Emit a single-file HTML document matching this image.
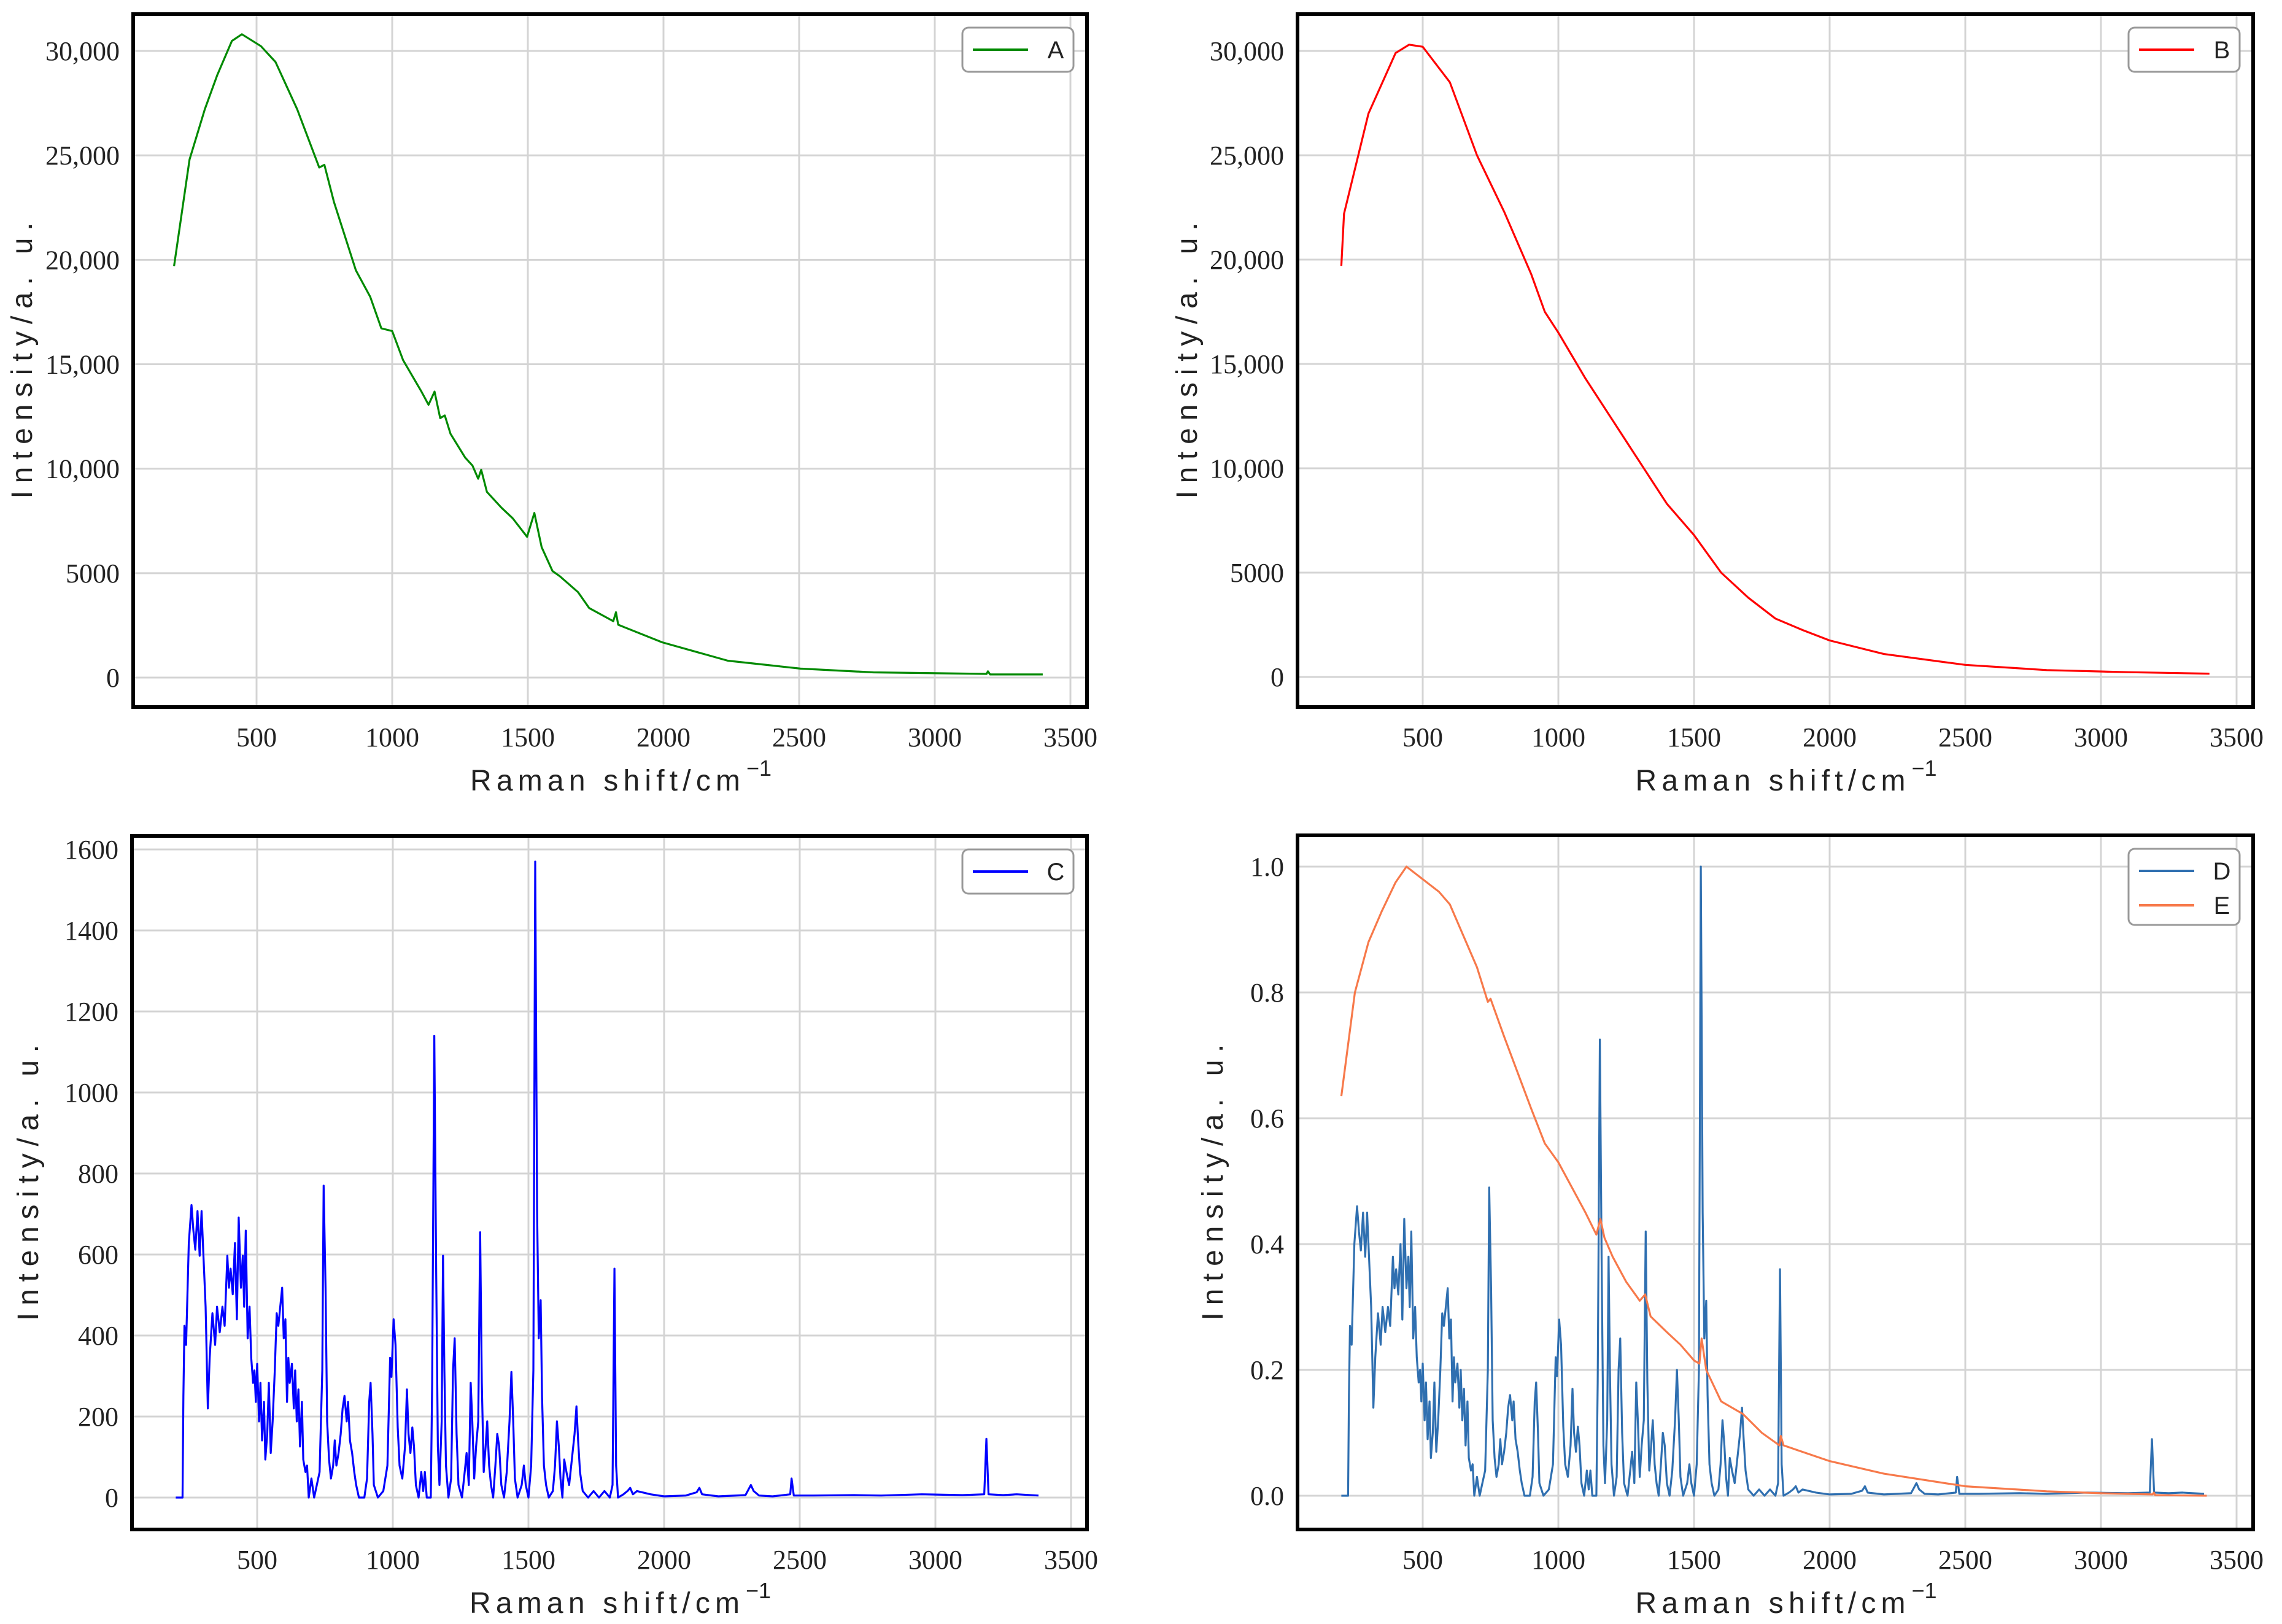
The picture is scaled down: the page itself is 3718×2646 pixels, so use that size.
<!DOCTYPE html>
<html><head><meta charset="utf-8"><style>
html,body{margin:0;padding:0;background:#fff;}
svg{display:block;}
</style></head><body>
<svg id="fig" xmlns="http://www.w3.org/2000/svg" width="3718" height="2646" viewBox="0 0 3718 2646"></svg>
<script>
const shiftA=[196,253,309,355,409,446,516,570,650,731,750,785,866,919,960,1000,1040,1108,1134,1156,1177,1194,1215,1269,1296,1317,1328,1349,1403,1444,1497,1524,1551,1591,1618,1685,1726,1815,1825,1833,1995,2237,2505,2774,3191,3196,3204,3398];
const intensityA=[19700,24800,27200,28840,30480,30800,30230,29470,27200,24420,24550,22780,19500,18230,16720,16590,15200,13690,13060,13690,12420,12550,11670,10530,10150,9520,9950,8890,8130,7630,6740,7880,6240,5100,4850,4090,3330,2700,3130,2530,1690,808,430,250,177,300,150,150];
const shiftB=[200,210,300,400,450,500,600,700,800,900,950,1000,1100,1200,1300,1400,1500,1550,1600,1700,1800,1900,2000,2200,2500,2800,3100,3400];
const intensityB=[19700,22200,27000,29900,30300,30200,28500,25000,22300,19300,17500,16500,14300,12300,10300,8300,6800,5900,5000,3800,2800,2250,1750,1100,580,330,230,160];
const shiftCD=[200,225,228,232,238,248,258,265,272,280,288,295,300,310,318,325,335,345,352,362,372,380,390,396,402,410,418,425,432,440,447,452,458,465,472,478,485,490,495,500,507,512,518,525,530,537,543,550,557,565,572,578,585,592,598,604,610,615,620,628,635,640,646,652,658,665,670,678,684,690,700,710,720,730,740,745,752,758,765,772,780,786,792,800,808,815,822,830,835,842,850,858,865,875,895,905,913,918,925,930,945,965,980,990,995,1003,1010,1018,1025,1035,1045,1052,1058,1065,1072,1078,1085,1095,1105,1112,1118,1125,1140,1145,1153,1160,1166,1172,1180,1185,1190,1196,1205,1215,1222,1228,1235,1242,1255,1265,1272,1280,1287,1293,1300,1307,1315,1322,1328,1335,1342,1348,1355,1362,1370,1378,1385,1392,1400,1410,1420,1430,1437,1444,1450,1460,1475,1483,1490,1500,1510,1518,1525,1532,1538,1545,1550,1557,1565,1575,1590,1598,1605,1612,1618,1625,1632,1640,1650,1660,1670,1677,1683,1690,1700,1720,1740,1760,1780,1800,1810,1817,1823,1830,1850,1865,1875,1885,1900,1950,2000,2080,2120,2130,2140,2200,2300,2320,2330,2350,2400,2465,2470,2478,2550,2700,2800,2950,3100,3180,3188,3196,3250,3300,3380];
const intensityC=[0,0,251,424,377,628,722,659,612,707,597,707,628,471,220,345,455,377,471,408,471,424,597,518,565,502,628,440,691,518,597,471,659,393,471,345,283,314,236,330,188,283,141,236,94,157,283,110,188,314,455,424,471,518,393,440,236,345,283,330,220,314,188,267,126,236,94,63,79,0,47,0,31,63,314,770,518,188,94,47,79,141,79,110,157,220,251,188,236,141,110,63,31,0,0,47,236,283,157,31,0,16,79,345,298,440,377,173,79,47,126,267,157,110,173,126,31,0,63,16,63,0,0,283,1140,550,126,31,188,597,314,79,0,47,314,393,157,31,0,63,110,31,283,188,47,126,188,655,283,63,126,188,79,31,0,79,157,126,31,0,63,188,310,188,47,0,31,79,31,0,79,314,1570,707,393,487,251,79,31,0,16,79,188,126,47,0,94,63,31,94,157,225,141,63,16,0,16,0,16,0,31,565,79,0,8,16,24,8,16,8,3,5,13,24,8,3,6,31,16,5,3,8,47,5,5,6,5,8,6,8,145,8,6,8,5];
const intensityD=[0,0,0.16,0.27,0.24,0.40,0.46,0.42,0.39,0.45,0.38,0.45,0.40,0.30,0.14,0.22,0.29,0.24,0.30,0.26,0.30,0.27,0.38,0.33,0.36,0.32,0.40,0.28,0.44,0.33,0.38,0.30,0.42,0.25,0.30,0.22,0.18,0.20,0.15,0.21,0.12,0.18,0.09,0.15,0.06,0.10,0.18,0.07,0.12,0.20,0.29,0.27,0.30,0.33,0.25,0.28,0.15,0.22,0.18,0.21,0.14,0.20,0.12,0.17,0.08,0.15,0.06,0.04,0.05,0,0.03,0,0.02,0.04,0.2,0.49,0.33,0.12,0.06,0.03,0.05,0.09,0.05,0.07,0.10,0.14,0.16,0.12,0.15,0.09,0.07,0.04,0.02,0,0,0.03,0.15,0.18,0.10,0.02,0,0.01,0.05,0.22,0.19,0.28,0.24,0.11,0.05,0.03,0.08,0.17,0.10,0.07,0.11,0.08,0.02,0,0.04,0.01,0.04,0,0,0.18,0.725,0.35,0.08,0.02,0.12,0.38,0.20,0.05,0,0.03,0.20,0.25,0.10,0.02,0,0.04,0.07,0.02,0.18,0.12,0.03,0.08,0.12,0.42,0.18,0.04,0.08,0.12,0.05,0.02,0,0.05,0.10,0.08,0.02,0,0.04,0.12,0.20,0.12,0.03,0,0.02,0.05,0.02,0,0.05,0.20,1.0,0.45,0.25,0.31,0.16,0.05,0.02,0,0.01,0.05,0.12,0.08,0.03,0,0.06,0.04,0.02,0.06,0.10,0.14,0.09,0.04,0.01,0,0.01,0,0.01,0,0.02,0.36,0.05,0,0.005,0.01,0.015,0.005,0.01,0.005,0.002,0.003,0.008,0.015,0.005,0.002,0.004,0.02,0.01,0.003,0.002,0.005,0.03,0.003,0.003,0.004,0.003,0.005,0.004,0.005,0.09,0.005,0.004,0.005,0.003];
const shiftE=[200,250,300,350,400,440,500,560,600,700,740,750,800,900,950,1000,1050,1100,1140,1155,1170,1200,1250,1300,1320,1340,1400,1450,1500,1520,1528,1545,1600,1680,1750,1815,1820,1830,2000,2200,2500,2800,3000,3190,3195,3200,3390];
const intensityE=[0.635,0.80,0.88,0.93,0.975,1.0,0.98,0.96,0.94,0.84,0.785,0.79,0.73,0.615,0.56,0.53,0.49,0.45,0.415,0.44,0.41,0.38,0.34,0.31,0.32,0.285,0.26,0.24,0.215,0.21,0.25,0.2,0.15,0.13,0.10,0.08,0.095,0.08,0.055,0.035,0.015,0.007,0.004,0.002,0.005,0.001,0];
const xTickValues=[500,1000,1500,2000,2500,3000,3500];
const yTicksAB=[0,5000,10000,15000,20000,25000,30000];
const yLabelsAB=["0","5000","10,000","15,000","20,000","25,000","30,000"];
const yTicksC=[0,200,400,600,800,1000,1200,1400,1600];
const yLabelsC=["0","200","400","600","800","1000","1200","1400","1600"];
const yTicksD=[0,0.2,0.4,0.6,0.8,1.0];
const yLabelsD=["0.0","0.2","0.4","0.6","0.8","1.0"];

const NS="http://www.w3.org/2000/svg";
const svg=document.getElementById('fig');
function mk(tag,attrs,parent){const e=document.createElementNS(NS,tag);for(const k in attrs)e.setAttribute(k,attrs[k]);(parent||svg).appendChild(e);return e;}

function panel(p){
  const g=mk('g',{});
  
  
  const xs=v=>p.x500+(v-500)*221/500;
  const ys=v=>p.y0-v*p.ky;
  // grid
  xTickValues.forEach(v=>{
    const l=mk('line',{x1:xs(v),x2:xs(v),y1:p.top,y2:p.bot,stroke:'#d4d4d4','stroke-width':3},g);
    
    
    const t=mk('text',{x:xs(v),y:p.bot+64,'text-anchor':'middle','font-family':'Liberation Serif, serif','font-size':44,fill:'#222'},g);
    t.textContent=String(v);
    
    
  });
  p.yTicks.forEach((v,i)=>{
    const l=mk('line',{x1:p.left,x2:p.right,y1:ys(v),y2:ys(v),stroke:'#d4d4d4','stroke-width':3},g);
    
    
    const t=mk('text',{x:p.left-22,y:ys(v)+15,'text-anchor':'end','font-family':'Liberation Serif, serif','font-size':44,fill:'#222'},g);
    t.textContent=p.yLabels[i];
    
    
  });
  // series
  p.series.forEach(s=>{
    const n=Math.min(s.x.length,s.y.length);
    let pts=[];
    for(let i=0;i<n;i++)pts.push(xs(s.x[i]).toFixed(1)+','+ys(s.y[i]).toFixed(1));
    const pl=mk('polyline',{points:pts.join(' '),fill:'none',stroke:s.color,'stroke-width':3.2,'stroke-linejoin':'round'},g);
    
    
  });
  // frame
  const f=mk('rect',{x:p.left,y:p.top,width:p.right-p.left,height:p.bot-p.top,fill:'none',stroke:'#000','stroke-width':6},g);
  
  
  // legend
  const lh=p.series.length>1?124:72;
  const lg=mk('g',{},g);
  
  
  mk('rect',{x:p.right-203,y:p.top+22,width:181,height:lh,rx:10,fill:'#fff',stroke:'#999','stroke-width':3},lg);
  p.series.forEach((s,i)=>{
    const cy=p.top+58+i*56;
    const ll=mk('line',{x1:p.right-186,x2:p.right-96,y1:cy,y2:cy,stroke:s.color,'stroke-width':4},lg);
    
    
    const lt=mk('text',{x:p.right-51,y:cy+14,'text-anchor':'middle','font-family':'Liberation Sans, sans-serif','font-size':40,fill:'#222'},lg);
    lt.textContent=s.label;
    
    
  });
  // axis titles
  const cx=(p.left+p.right)/2;
  const xt=mk('text',{x:cx-8,y:p.bot+136,'text-anchor':'middle','font-family':'Liberation Sans, sans-serif','font-size':48,fill:'#222',textLength:440,lengthAdjust:'spacing'},g);
  xt.textContent='Raman shift/cm';
  
  
  const sup=mk('text',{x:cx+222,y:p.bot+112,'text-anchor':'start','font-family':'Liberation Sans, sans-serif','font-size':36,fill:'#222'},g);
  sup.textContent='−1';
  
  
  const cy=(p.top+p.bot)/2;
  const yt=mk('text',{x:0,y:0,'text-anchor':'middle','font-family':'Liberation Sans, sans-serif','font-size':48,fill:'#222',textLength:450,lengthAdjust:'spacing',transform:`translate(${p.ytx},${cy}) rotate(-90)`},g);
  yt.textContent='Intensity/a. u.';
  
  
}

panel({name:'panel-a',left:217,right:1771,top:23,bot:1152,x500:418,y0:1104,ky:1021/30000,yTicks:yTicksAB,yLabels:yLabelsAB,ytx:52,
  series:[{x:shiftA,y:intensityA,color:'#008a00',label:'A'}]});
panel({name:'panel-b',left:2114,right:3671,top:23,bot:1152,x500:2318,y0:1103,ky:1020/30000,yTicks:yTicksAB,yLabels:yLabelsAB,ytx:1950,
  series:[{x:shiftB,y:intensityB,color:'#ff0000',label:'B'}]});
panel({name:'panel-c',left:215,right:1771,top:1362,bot:2492,x500:419,y0:2440,ky:0.66,yTicks:yTicksC,yLabels:yLabelsC,ytx:62,
  series:[{x:shiftCD,y:intensityC,color:'#0000ff',label:'C'}]});
panel({name:'panel-d',left:2114,right:3671,top:1361,bot:2492,x500:2318,y0:2437,ky:1025,yTicks:yTicksD,yLabels:yLabelsD,ytx:1992,
  series:[{x:shiftCD,y:intensityD,color:'#2f6fb0',label:'D'},{x:shiftE,y:intensityE,color:'#f7794a',label:'E'}]});
</script>
</body></html>
